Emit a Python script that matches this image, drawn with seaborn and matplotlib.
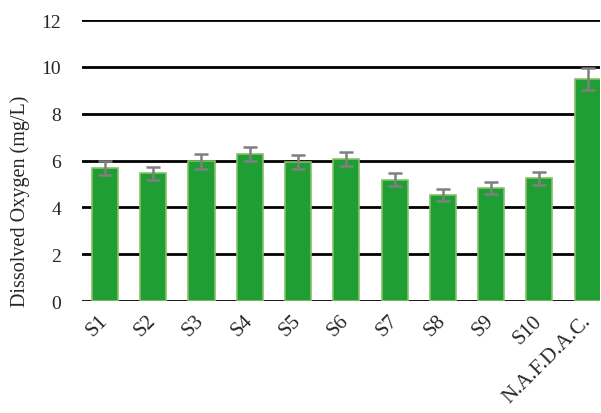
import pandas as pd
import matplotlib
matplotlib.use("Agg")
import matplotlib.pyplot as plt
import seaborn as sns

# Values
sites = ["S1", "S2", "S3", "S4", "S5", "S6", "S7", "S8", "S9", "S10", "N.A.F.D.A.C."]
do_mean = [5.68, 5.46, 5.97, 6.29, 5.93, 6.08, 5.18, 4.53, 4.82, 5.24, 9.48]
do_err = [0.30, 0.28, 0.31, 0.31, 0.29, 0.30, 0.28, 0.24, 0.25, 0.28, 0.47]

df = pd.DataFrame({"Site": sites, "DO": do_mean, "err": do_err})

sns.set_style("white")
plt.rcParams["font.family"] = ["Liberation Serif", "DejaVu Serif"]

fig = plt.figure(figsize=(6.01, 4.14), dpi=100)
ax = fig.add_axes([0.136, 0.2705, 0.862, 0.6785])

sns.barplot(data=df, x="Site", y="DO", color="#1f9e34", width=0.54,
            edgecolor="#86c06a", linewidth=1.2, saturation=1, ax=ax, zorder=3)

# error bars at the bar centres
centres = [p.get_x() + p.get_width() / 2 for p in ax.patches]
ax.errorbar(centres, df["DO"], yerr=df["err"], fmt="none", ecolor="#7f7f7f",
            elinewidth=1.8, capsize=5, capthick=1.8, zorder=4)

ax.set_ylim(0, 12)
ax.set_yticks(range(0, 13, 2))
ax.set_xlim(-0.48, 10.25)
ax.yaxis.grid(True, color="black", linewidth=2, zorder=0)
ax.set_axisbelow(True)
sns.despine(ax=ax, left=True, right=True, top=True, bottom=True)

ax.set_xlabel("")
ax.set_ylabel("Dissolved Oxygen (mg/L)", fontsize=14.5)
ax.yaxis.set_label_coords(-0.10, 0.36)
ax.tick_params(axis="y", length=0, pad=15, labelsize=14)
ax.tick_params(axis="x", length=0, pad=12, labelsize=15)
plt.setp(ax.get_xticklabels(), rotation=45, ha="right", va="center",
         rotation_mode="anchor")

fig.savefig("out.png", dpi=100)
